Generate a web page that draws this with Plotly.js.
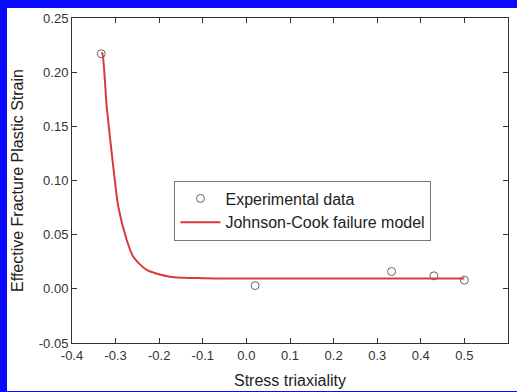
<!DOCTYPE html>
<html>
<head>
<meta charset="utf-8">
<script src="https://cdn.plot.ly/plotly-3.0.1.min.js"></script>
<style>
  html, body { margin: 0; padding: 0; background: #fff; }
  #wrap { position: relative; width: 517px; height: 392px; overflow: hidden; }
  #chart { width: 517px; height: 392px; }
  #frame { position: absolute; left: 0; top: 0; width: 517px; height: 392px; box-sizing: border-box;
           border-top: 8px solid #0a0aff; border-left: 7px solid #0a0aff; border-bottom: 1px solid #0a0aff;
           pointer-events: none; }
</style>
</head>
<body>
<div id="wrap">
  <div id="chart"></div>
  <div id="frame"></div>
</div>
<script>
// Experimental data (stress triaxiality vs effective fracture plastic strain)
const expX = [-0.333, 0.020, 0.333, 0.430, 0.500];
const expY = [0.217, 0.003, 0.016, 0.012, 0.008];

// Johnson-Cook failure model curve
const jcX = [-0.333, -0.3305, -0.3204, -0.3037, -0.2938, -0.2745, -0.2594, -0.2287, -0.1752, -0.10, 0.0, 0.2, 0.4, 0.5];
const jcY = [0.218, 0.2174, 0.1681, 0.1069, 0.0758, 0.0451, 0.0296, 0.0174, 0.0112, 0.0098, 0.0096, 0.0096, 0.0096, 0.0096];

const xTicks = [-0.4, -0.3, -0.2, -0.1, 0.0, 0.1, 0.2, 0.3, 0.4, 0.5, 0.6];
const xTickText = ['-0.4', '-0.3', '-0.2', '-0.1', '0.0', '0.1', '0.2', '0.3', '0.4', '0.5', '0.6'];
const yTicks = [-0.05, 0.00, 0.05, 0.10, 0.15, 0.20, 0.25];
const yTickText = ['-0.05', '0.00', '0.05', '0.10', '0.15', '0.20', '0.25'];

const FONT = 'Liberation Sans, Arial, sans-serif';

const traces = [
  {
    x: expX, y: expY, type: 'scatter', mode: 'markers', name: 'Experimental data',
    marker: { symbol: 'circle-open', size: 8, color: '#666666', line: { width: 1, color: '#666666' } }
  },
  {
    x: jcX, y: jcY, type: 'scatter', mode: 'lines', name: 'Johnson-Cook failure model',
    line: { color: '#d93a3a', width: 2, shape: 'spline', smoothing: 0.7 }
  }
];

const axisCommon = {
  showgrid: false, zeroline: false, showline: true, linecolor: '#333333', linewidth: 1,
  mirror: 'ticks', ticks: 'inside', ticklen: 5, tickcolor: '#333333', tickwidth: 1,
  tickfont: { family: FONT, size: 13, color: '#333333' }
};

const layout = {
  width: 517, height: 392,
  margin: { l: 72, r: 9, t: 18, b: 49 },
  paper_bgcolor: '#ffffff', plot_bgcolor: '#ffffff',
  showlegend: true,
  legend: {
    x: 0.235, y: 0.5, xanchor: 'left', yanchor: 'top',
    bordercolor: '#777777', borderwidth: 1, bgcolor: '#ffffff',
    font: { family: FONT, size: 16, color: '#222222' },
    tracegroupgap: 0, itemwidth: 40
  },
  xaxis: Object.assign({}, axisCommon, {
    range: [-0.4, 0.6], tickvals: xTicks, ticktext: xTickText,
    title: { text: 'Stress triaxiality', standoff: 13, font: { family: FONT, size: 16, color: '#222222' } }
  }),
  yaxis: Object.assign({}, axisCommon, {
    range: [-0.05, 0.25], tickvals: yTicks, ticktext: yTickText,
    title: { text: 'Effective Fracture Plastic Strain', standoff: 11, font: { family: FONT, size: 16, color: '#222222' } }
  })
};

Plotly.newPlot('chart', traces, layout, { displayModeBar: false, staticPlot: true });
</script>
</body>
</html>
